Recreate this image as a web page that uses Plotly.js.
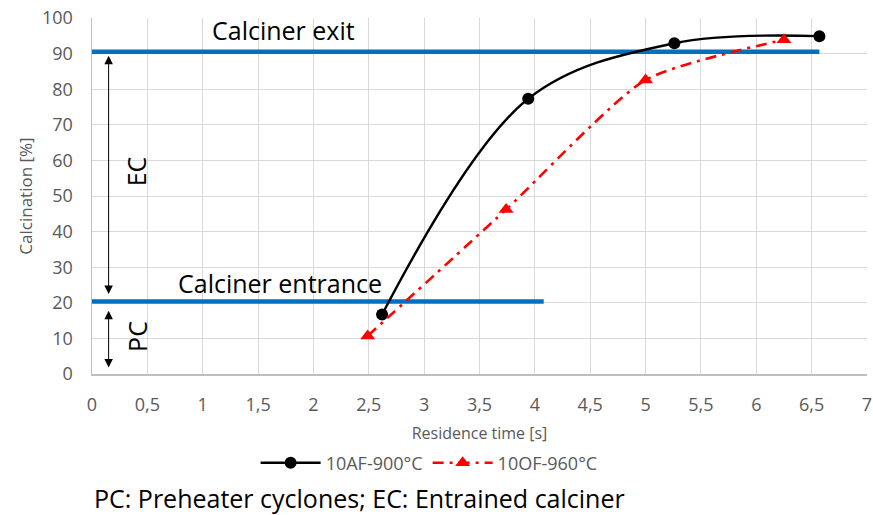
<!DOCTYPE html>
<html>
<head>
<meta charset="utf-8">
<script src="https://cdn.plot.ly/plotly-3.0.1.min.js"></script>
<style>html,body{margin:0;padding:0;background:#fff;}#chart{width:873px;height:515px;}</style>
</head>
<body>
<div id="chart"></div>
<script>
// Series data
const afTime = [2.62, 3.94, 5.26, 6.57];
const afCalc = [16.7, 77.3, 92.9, 94.9];
const ofTime = [2.49, 3.74, 5.0, 6.25];
const ofCalc = [10.7, 46.2, 82.6, 93.9];

// Reference levels (calciner exit / entrance)
const exitX = [0, 6.57];
const exitY = [90.5, 90.5];
const entranceX = [0, 4.08];
const entranceY = [20.4, 20.4];

// Region arrows (EC and PC spans)
const ecArrow = {x: 0.15, from: 89.8, to: 22.5};
const pcArrow = {x: 0.15, from: 18.2, to: 1.8};

// Tick labels
const xTickVals = [0, 0.5, 1, 1.5, 2, 2.5, 3, 3.5, 4, 4.5, 5, 5.5, 6, 6.5, 7];
const xTickText = ["0", "0,5", "1", "1,5", "2", "2,5", "3", "3,5", "4", "4,5", "5", "5,5", "6", "6,5", "7"];
const yTickVals = [0, 10, 20, 30, 40, 50, 60, 70, 80, 90, 100];

const seriesNames = ["10AF-900°C", "10OF-960°C"];

const FONT = "Open Sans, sans-serif";
const GRAY = "#595959";
const BLUE = "#0070C0";

const traces = [
  {x: exitX, y: exitY, mode: "lines", line: {color: BLUE, width: 4.5}, showlegend: false, hoverinfo: "skip"},
  {x: entranceX, y: entranceY, mode: "lines", line: {color: BLUE, width: 4.5}, showlegend: false, hoverinfo: "skip"},
  {x: afTime, y: afCalc, name: seriesNames[0], mode: "lines+markers",
   line: {color: "#000000", width: 2.4, shape: "spline", smoothing: 1},
   marker: {symbol: "circle", size: 12, color: "#000000"}},
  {x: ofTime, y: ofCalc, name: seriesNames[1], mode: "lines+markers",
   line: {color: "#FF0000", width: 2.6, dash: "11px,6px,3px,6px", shape: "spline", smoothing: 0.6},
   marker: {symbol: "triangle-up", size: 13, color: "#FF0000"}}
];

const layout = {
  width: 873, height: 515,
  margin: {l: 91.5, r: 6, t: 18, b: 141},
  paper_bgcolor: "#fff", plot_bgcolor: "#fff",
  font: {family: FONT, color: GRAY},
  showlegend: true,
  legend: {orientation: "h", x: 0.435, xanchor: "center", y: -0.25, yanchor: "middle",
           font: {family: FONT, size: 18, color: GRAY}, itemwidth: 60},
  xaxis: {range: [0, 7], tickvals: xTickVals, ticktext: xTickText,
          showgrid: true, gridcolor: "#d9d9d9", gridwidth: 1,
          showline: true, linecolor: "#bfbfbf", linewidth: 1.5, zeroline: false,
          ticks: "", ticklabelstandoff: 14,
          tickfont: {family: FONT, size: 18, color: GRAY},
          title: {text: "Residence time [s]", font: {family: FONT, size: 16, color: GRAY}, standoff: 12}},
  yaxis: {range: [0, 100], tickvals: yTickVals,
          showgrid: true, gridcolor: "#d9d9d9", gridwidth: 1,
          showline: true, linecolor: "#bfbfbf", linewidth: 1.5, zeroline: false,
          ticks: "", ticklabelstandoff: 14,
          tickfont: {family: FONT, size: 18, color: GRAY},
          title: {text: "Calcination [%]", font: {family: FONT, size: 17, color: GRAY}, standoff: 5}},
  annotations: [
    {x: 1.73, y: 96.5, xref: "x", yref: "y", text: "Calciner exit", showarrow: false,
     font: {family: FONT, size: 25, color: "#000"}},
    {x: 1.7, y: 25.6, xref: "x", yref: "y", text: "Calciner entrance", showarrow: false,
     font: {family: FONT, size: 25, color: "#000"}},
    {x: 0.4, y: 57, xref: "x", yref: "y", text: "EC", showarrow: false, textangle: -90,
     font: {family: FONT, size: 25, color: "#000"}},
    {x: 0.4, y: 10.5, xref: "x", yref: "y", text: "PC", showarrow: false, textangle: -90,
     font: {family: FONT, size: 25, color: "#000"}},
    {x: ecArrow.x, y: ecArrow.to, ax: ecArrow.x, ay: ecArrow.from, xref: "x", yref: "y", axref: "x", ayref: "y",
     text: "", showarrow: true, arrowhead: 2, arrowside: "end+start", arrowsize: 1.7, arrowwidth: 1, arrowcolor: "#000"},
    {x: pcArrow.x, y: pcArrow.to, ax: pcArrow.x, ay: pcArrow.from, xref: "x", yref: "y", axref: "x", ayref: "y",
     text: "", showarrow: true, arrowhead: 2, arrowside: "end+start", arrowsize: 1.7, arrowwidth: 1, arrowcolor: "#000"},
    {x: 0, y: -0.347, xref: "paper", yref: "paper", xanchor: "left", yanchor: "middle",
     text: "PC: Preheater cyclones; EC: Entrained calciner", showarrow: false,
     font: {family: FONT, size: 25, color: "#000"}}
  ]
};

Plotly.newPlot("chart", traces, layout, {displayModeBar: false, staticPlot: true});
</script>
</body>
</html>
